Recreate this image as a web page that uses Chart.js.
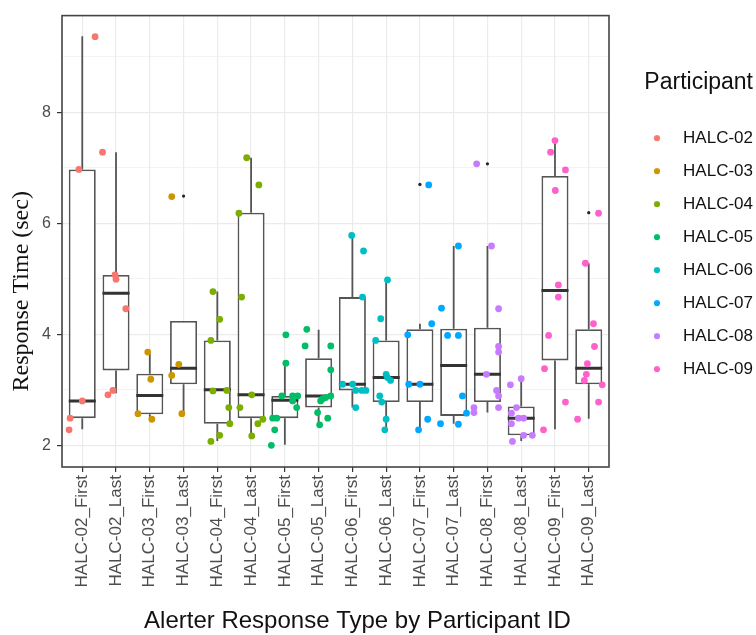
<!DOCTYPE html>
<html>
<head>
<meta charset="utf-8">
<title>Alerter Response Time by Participant</title>
<script src="https://cdn.jsdelivr.net/npm/chart.js@4.4.1/dist/chart.umd.min.js"></script>
<style>
  html, body { margin: 0; padding: 0; background: #fff; }
  #wrap { width: 756px; height: 635px; }
</style>
</head>
<body>
<div id="wrap"><canvas id="chart"></canvas></div>
<script>
// categories on the x axis, one box per participant and response type
const categories = [
    'HALC-02_First', 'HALC-02_Last', 'HALC-03_First', 'HALC-03_Last',
    'HALC-04_First', 'HALC-04_Last', 'HALC-05_First', 'HALC-05_Last',
    'HALC-06_First', 'HALC-06_Last', 'HALC-07_First', 'HALC-07_Last',
    'HALC-08_First', 'HALC-08_Last', 'HALC-09_First', 'HALC-09_Last'
];
const participants = ['HALC-02', 'HALC-03', 'HALC-04', 'HALC-05', 'HALC-06', 'HALC-07', 'HALC-08', 'HALC-09'];
const participantColors = ['#F8766D', '#CD9600', '#7CAE00', '#00BE67', '#00BFC4', '#00A9FF', '#C77CFF', '#FF61CC'];

// box statistics (sec)
const q1 = [2.49, 3.35, 2.56, 3.10, 2.39, 2.49, 2.49, 2.68, 2.99, 2.78, 2.78, 2.53, 2.78, 2.18, 3.53, 3.10];
const median = [2.80, 4.74, 2.90, 3.39, 3.00, 2.91, 2.81, 2.89, 3.10, 3.22, 3.10, 3.44, 3.28, 2.49, 4.79, 3.39];
const q3 = [6.97, 5.07, 3.29, 4.24, 3.89, 6.19, 2.89, 3.57, 4.67, 3.89, 4.09, 4.10, 4.12, 2.70, 6.85, 4.09];
const whiskerLow = [2.29, 2.94, 2.48, 2.57, 2.08, 2.17, 2.01, 2.37, 2.68, 2.28, 2.28, 2.39, 2.59, 2.08, 2.29, 2.48];
const whiskerHigh = [9.37, 7.28, 3.68, 4.24, 4.77, 7.18, 3.48, 4.08, 5.78, 4.98, 4.19, 5.59, 5.59, 3.20, 7.49, 5.28];
const outliers = [[], [], [], [6.49], [], [], [3.99], [], [], [], [6.70], [], [7.07], [], [], [6.19]];

// individual response times per category and their horizontal jitter (in category units)
const pointValues = [
    [9.36, 6.97, 2.80, 2.49, 2.28],
    [7.28, 5.07, 4.99, 4.46, 2.99, 2.91],
    [3.68, 3.19, 2.57, 2.47],
    [6.48, 3.46, 3.26, 2.57],
    [4.77, 4.27, 3.89, 2.99, 2.98, 2.68, 2.39, 2.18, 2.07],
    [7.18, 6.69, 6.18, 4.67, 2.91, 2.68, 2.47, 2.39, 2.17],
    [3.99, 3.48, 2.89, 2.89, 2.89, 2.80, 2.68, 2.49, 2.49, 2.28, 2.00],
    [4.09, 3.79, 3.79, 3.36, 2.89, 2.86, 2.84, 2.80, 2.59, 2.49, 2.37],
    [5.78, 5.50, 4.67, 3.10, 3.10, 2.99, 2.99, 2.99, 2.68],
    [4.98, 4.28, 3.89, 3.28, 3.22, 3.17, 2.89, 2.78, 2.47, 2.28],
    [6.69, 4.19, 3.99, 3.10, 3.10, 2.47, 2.28],
    [5.59, 4.47, 3.98, 3.98, 2.89, 2.58, 2.39, 2.38],
    [7.07, 5.59, 4.46, 3.78, 3.68, 3.28, 2.99, 2.89, 2.68, 2.68, 2.59],
    [3.20, 3.09, 2.68, 2.58, 2.49, 2.49, 2.39, 2.18, 2.18, 2.07],
    [7.49, 7.28, 6.96, 6.59, 4.89, 4.67, 3.98, 3.38, 2.78, 2.28],
    [6.18, 5.28, 4.19, 3.78, 3.47, 3.28, 3.17, 3.09, 2.78, 2.47]
];
const pointJitter = [
    [0.38, -0.10, 0.00, -0.36, -0.39],
    [-0.40, -0.03, 0.00, 0.29, -0.09, -0.24],
    [-0.06, 0.03, -0.35, 0.06],
    [-0.35, -0.14, -0.35, -0.05],
    [-0.13, 0.07, -0.19, 0.28, -0.13, 0.34, 0.37, 0.07, -0.19],
    [-0.13, 0.23, -0.36, -0.28, 0.02, -0.33, 0.35, 0.20, 0.02],
    [0.03, 0.03, -0.09, 0.23, 0.38, 0.23, 0.35, -0.36, -0.24, -0.30, -0.40],
    [-0.35, -0.40, 0.36, 0.36, 0.36, 0.21, 0.12, 0.06, -0.03, 0.27, 0.03],
    [-0.02, 0.33, 0.30, -0.29, 0.01, 0.10, 0.28, 0.40, 0.10],
    [0.04, -0.16, -0.31, 0.00, 0.04, 0.13, -0.19, -0.13, 0.00, -0.04],
    [0.26, 0.35, -0.36, -0.33, 0.00, 0.23, -0.04],
    [0.14, -0.36, -0.18, 0.14, 0.26, 0.38, -0.39, 0.14],
    [-0.32, 0.12, 0.33, 0.33, 0.33, -0.03, 0.27, 0.33, 0.33, -0.40, -0.40],
    [0.00, -0.32, -0.14, -0.29, -0.08, 0.07, -0.29, 0.07, 0.33, -0.26],
    [0.00, -0.13, 0.31, 0.01, 0.10, 0.10, -0.19, -0.31, 0.31, -0.34],
    [0.29, -0.10, 0.14, 0.17, -0.04, -0.07, -0.13, 0.40, 0.29, -0.33]
];

const yTicks = [2, 3, 4, 5, 6, 7, 8, 9];
const xTitle = 'Alerter Response Type by Participant ID';
const yTitle = 'Response Time (sec)';
const legendTitle = 'Participant';

Chart.defaults.font.family = '"Liberation Sans", Arial, sans-serif';

// small round swatch for the legend
function makeDot(color) {
    const c = document.createElement('canvas');
    c.width = 8;
    c.height = 8;
    const g = c.getContext('2d');
    g.fillStyle = color;
    g.beginPath();
    g.arc(4, 4, 3.1, 0, Math.PI * 2);
    g.fill();
    return c;
}
const legendDots = participantColors.map(makeDot);

// one scatter dataset per participant (First + Last categories)
const pointSets = participants.map((name, p) => {
    const data = [];
    [2 * p, 2 * p + 1].forEach(ci => {
        pointValues[ci].forEach((v, k) => data.push({ x: ci + 1 + pointJitter[ci][k], y: v }));
    });
    return {
        type: 'scatter',
        label: name,
        data: data,
        backgroundColor: participantColors[p],
        borderWidth: 0,
        pointRadius: 3.4,
        order: 1
    };
});

const outlierData = [];
outliers.forEach((list, i) => list.forEach(v => outlierData.push({ x: i + 1, y: v })));

const whiskerData = [];
const medianData = [];
categories.forEach((c, i) => {
    const x = i + 1;
    whiskerData.push({ x: x, y: q3[i] }, { x: x, y: whiskerHigh[i] }, { x: x, y: null });
    whiskerData.push({ x: x, y: q1[i] }, { x: x, y: whiskerLow[i] }, { x: x, y: null });
    medianData.push({ x: x - 0.4, y: median[i] }, { x: x + 0.4, y: median[i] }, { x: x + 0.4, y: null });
});

const frameAndTitles = {
    id: 'frameAndTitles',
    afterDatasetsDraw(chart) {
        const { ctx, chartArea: a } = chart;
        ctx.save();
        ctx.strokeStyle = '#444';
        ctx.lineWidth = 1.6;
        ctx.strokeRect(a.left, a.top, a.right - a.left, a.bottom - a.top);
        ctx.restore();
    },
    afterDraw(chart) {
        const { ctx, chartArea: a } = chart;
        ctx.save();
        ctx.fillStyle = '#111';
        ctx.textAlign = 'center';
        ctx.textBaseline = 'middle';
        ctx.font = '24px "Liberation Sans", Arial, sans-serif';
        ctx.fillText(xTitle, (a.left + a.right) / 2 + 22, a.bottom + 154);
        ctx.translate(22, (a.top + a.bottom) / 2 + 50);
        ctx.rotate(-Math.PI / 2);
        ctx.font = '24px "Liberation Serif", "Times New Roman", serif';
        ctx.fillText(yTitle, 0, 0);
        ctx.restore();
    }
};

new Chart(document.getElementById('chart'), {
    type: 'scatter',
    data: {
        datasets: [
            ...pointSets,
            {
                type: 'scatter',
                label: 'outliers',
                data: outlierData,
                backgroundColor: '#222',
                borderWidth: 0,
                pointRadius: 1.6,
                order: 2
            },
            {
                type: 'line',
                label: 'median',
                data: medianData,
                borderColor: '#333',
                borderWidth: 3,
                borderCapStyle: 'butt',
                pointRadius: 0,
                spanGaps: false,
                order: 3
            },
            {
                type: 'line',
                label: 'whiskers',
                data: whiskerData,
                borderColor: '#555',
                borderWidth: 1.8,
                borderCapStyle: 'butt',
                pointRadius: 0,
                spanGaps: false,
                order: 4
            },
            {
                type: 'bar',
                label: 'boxes',
                data: categories.map((c, i) => ({ x: i + 1, y: [q1[i], q3[i]] })),
                backgroundColor: '#ffffff',
                borderColor: '#555',
                borderWidth: 1.8,
                borderSkipped: false,
                barPercentage: 0.8,
                categoryPercentage: 1,
                order: 5
            }
        ]
    },
    options: {
        responsive: true,
        maintainAspectRatio: false,
        animation: false,
        events: [],
        layout: { padding: { top: 10, right: 3, bottom: 0, left: 0 } },
        scales: {
            x: {
                type: 'linear',
                min: 0.4,
                max: 16.6,
                offset: false,
                afterBuildTicks: s => { s.ticks = categories.map((c, i) => ({ value: i + 1 })); },
                afterFit: s => { s.height = 168; },
                border: { display: false },
                grid: {
                    offset: false,
                    color: '#EBEBEB',
                    lineWidth: 1.2,
                    tickColor: '#333',
                    tickWidth: 1.2,
                    tickLength: 5
                },
                ticks: {
                    autoSkip: false,
                    minRotation: 90,
                    maxRotation: 90,
                    padding: 3,
                    color: '#4D4D4D',
                    font: { size: 17 },
                    callback: v => categories[v - 1]
                }
            },
            y: {
                type: 'linear',
                min: 1.61,
                max: 9.74,
                afterBuildTicks: s => { s.ticks = yTicks.map(v => ({ value: v })); },
                afterFit: s => { s.width = 62; },
                border: { display: false },
                grid: {
                    color: '#EBEBEB',
                    lineWidth: c => (c.tick && c.tick.value % 2 === 0 ? 1.2 : 0.6),
                    tickColor: c => (c.tick && c.tick.value % 2 === 0 ? '#333' : 'rgba(0,0,0,0)'),
                    tickWidth: 1.2,
                    tickLength: 5
                },
                ticks: {
                    autoSkip: false,
                    padding: 6,
                    color: '#4D4D4D',
                    font: { size: 16 },
                    callback: v => (v % 2 === 0 ? String(v) : '')
                }
            }
        },
        plugins: {
            tooltip: { enabled: false },
            legend: {
                position: 'right',
                align: 'start',
                maxWidth: 144,
                title: {
                    display: true,
                    text: legendTitle,
                    position: 'end',
                    color: '#111',
                    font: { size: 23 },
                    padding: { top: 61, bottom: 15 }
                },
                labels: {
                    usePointStyle: true,
                    pointStyleWidth: 64,
                    padding: 16,
                    textAlign: 'right',
                    color: '#222',
                    font: { size: 17 },
                    generateLabels: () => participants.map((name, p) => ({
                        text: name,
                        fillStyle: participantColors[p],
                        strokeStyle: participantColors[p],
                        lineWidth: 0,
                        pointStyle: legendDots[p],
                        datasetIndex: p,
                        hidden: false
                    }))
                }
            }
        }
    },
    plugins: [frameAndTitles]
});
</script>
</body>
</html>
